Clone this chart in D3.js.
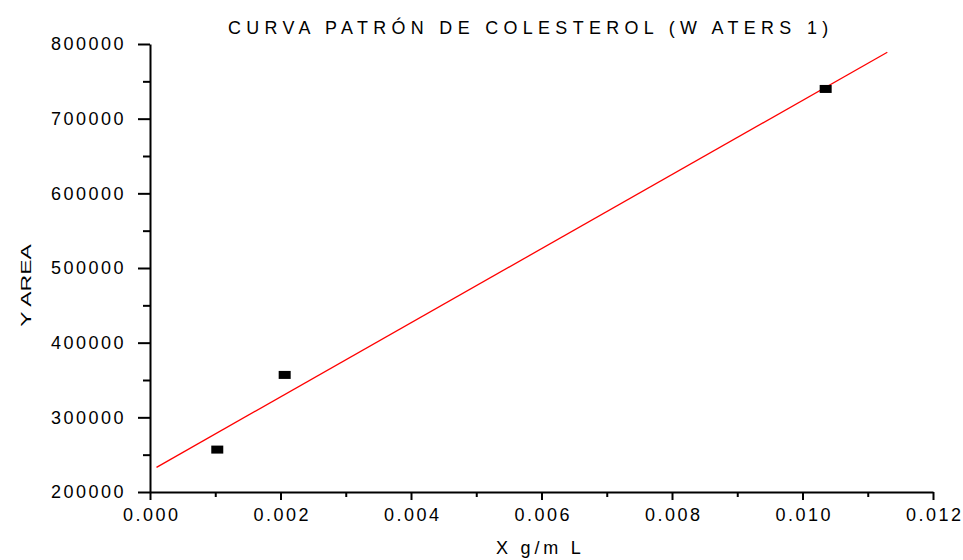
<!DOCTYPE html>
<html>
<head>
<meta charset="utf-8">
<script src="https://cdn.jsdelivr.net/npm/d3@7"></script>
<style>
  html, body { margin: 0; padding: 0; background: #fff; }
  svg { display: block; }
  text { font-family: "Liberation Sans", Arial, sans-serif; fill: #000; }
</style>
</head>
<body>
<svg id="chart" width="963" height="560"></svg>
<script>
// ---- data ----
const concentrations = [0.001031, 0.002064, 0.010355];   // X g/mL
const areas = [256800, 356800, 739800];                    // Y AREA
const fitX = [0.0001, 0.0113];                             // fitted line ends
const fitY = [233000, 789000];
const xTicks = [0, 0.002, 0.004, 0.006, 0.008, 0.010, 0.012];
const xMinorTicks = [0.001, 0.003, 0.005, 0.007, 0.009, 0.011];
const yTicks = [200000, 300000, 400000, 500000, 600000, 700000, 800000];
const yMinorTicks = [250000, 350000, 450000, 550000, 650000, 750000];
const titleText = "CURVA PATRÓN DE COLESTEROL (W ATERS 1)";
const xLabel = "X g/m L";
const yLabel = "Y AREA";

(function () {
const svg = d3.select("#chart");
const mLeft = 150, mRight = 933, mTop = 44, mBottom = 492;

const x = d3.scaleLinear().domain([0, 0.012]).range([mLeft, mRight]);
const y = d3.scaleLinear().domain([200000, 800000]).range([mBottom, mTop]);

// minor ticks
const xMinor = svg.append("g").attr("transform", `translate(0,${mBottom})`)
  .call(d3.axisBottom(x).tickValues(xMinorTicks).tickSize(5).tickFormat(""));
xMinor.select(".domain").remove();
xMinor.selectAll("line").attr("stroke", "#000").attr("stroke-width", 2);

const yMinor = svg.append("g").attr("transform", `translate(${mLeft},0)`)
  .call(d3.axisLeft(y).tickValues(yMinorTicks).tickSize(7).tickFormat(""));
yMinor.select(".domain").remove();
yMinor.selectAll("line").attr("stroke", "#000").attr("stroke-width", 2);

// major axes
const xAxis = svg.append("g").attr("transform", `translate(0,${mBottom})`)
  .call(d3.axisBottom(x).tickValues(xTicks).tickSize(8).tickSizeOuter(0).tickPadding(8)
    .tickFormat(d3.format(".3f")));
xAxis.select(".domain").attr("stroke", "#000").attr("stroke-width", 2);
xAxis.selectAll("line").attr("stroke", "#000").attr("stroke-width", 2);
xAxis.selectAll("text").attr("font-size", 18).attr("letter-spacing", "2.5px")
  .attr("font-family", "Liberation Sans, Arial, sans-serif").attr("fill", "#000")
  .attr("dx", "1.2px");

const yAxis = svg.append("g").attr("transform", `translate(${mLeft},0)`)
  .call(d3.axisLeft(y).tickValues(yTicks).tickSize(12).tickSizeOuter(0).tickPadding(12)
    .tickFormat(d3.format("d")));
yAxis.select(".domain").attr("stroke", "#000").attr("stroke-width", 2);
yAxis.selectAll("line").attr("stroke", "#000").attr("stroke-width", 2);
yAxis.selectAll("text").attr("font-size", 18).attr("letter-spacing", "2.5px")
  .attr("font-family", "Liberation Sans, Arial, sans-serif").attr("fill", "#000");

// fitted line
svg.append("path")
  .datum(fitX.map((d, i) => [d, fitY[i]]))
  .attr("fill", "none").attr("stroke", "#ff0000").attr("stroke-width", 1.3)
  .attr("d", d3.line().x(d => x(d[0])).y(d => y(d[1])));

// data points
svg.append("g").selectAll("rect")
  .data(concentrations.map((d, i) => [d, areas[i]]))
  .join("rect")
  .attr("x", d => x(d[0]) - 6).attr("y", d => y(d[1]) - 4)
  .attr("width", 12).attr("height", 8).attr("fill", "#000");

// title
svg.append("text").attr("x", 228).attr("y", 34)
  .attr("font-size", 17.9).attr("letter-spacing", "5.35px").text(titleText);

// x label
svg.append("text").attr("x", 496).attr("y", 554)
  .attr("font-size", 18).attr("letter-spacing", "3.8px")
  .text(xLabel);

// y label (glyphs elongated along the text direction, as in the reference)
svg.append("text").attr("transform", `translate(31,285.5) rotate(-90) scale(1,0.65)`)
  .attr("text-anchor", "middle").attr("font-size", 23)
  .text(yLabel);
})();
</script>
</body>
</html>
